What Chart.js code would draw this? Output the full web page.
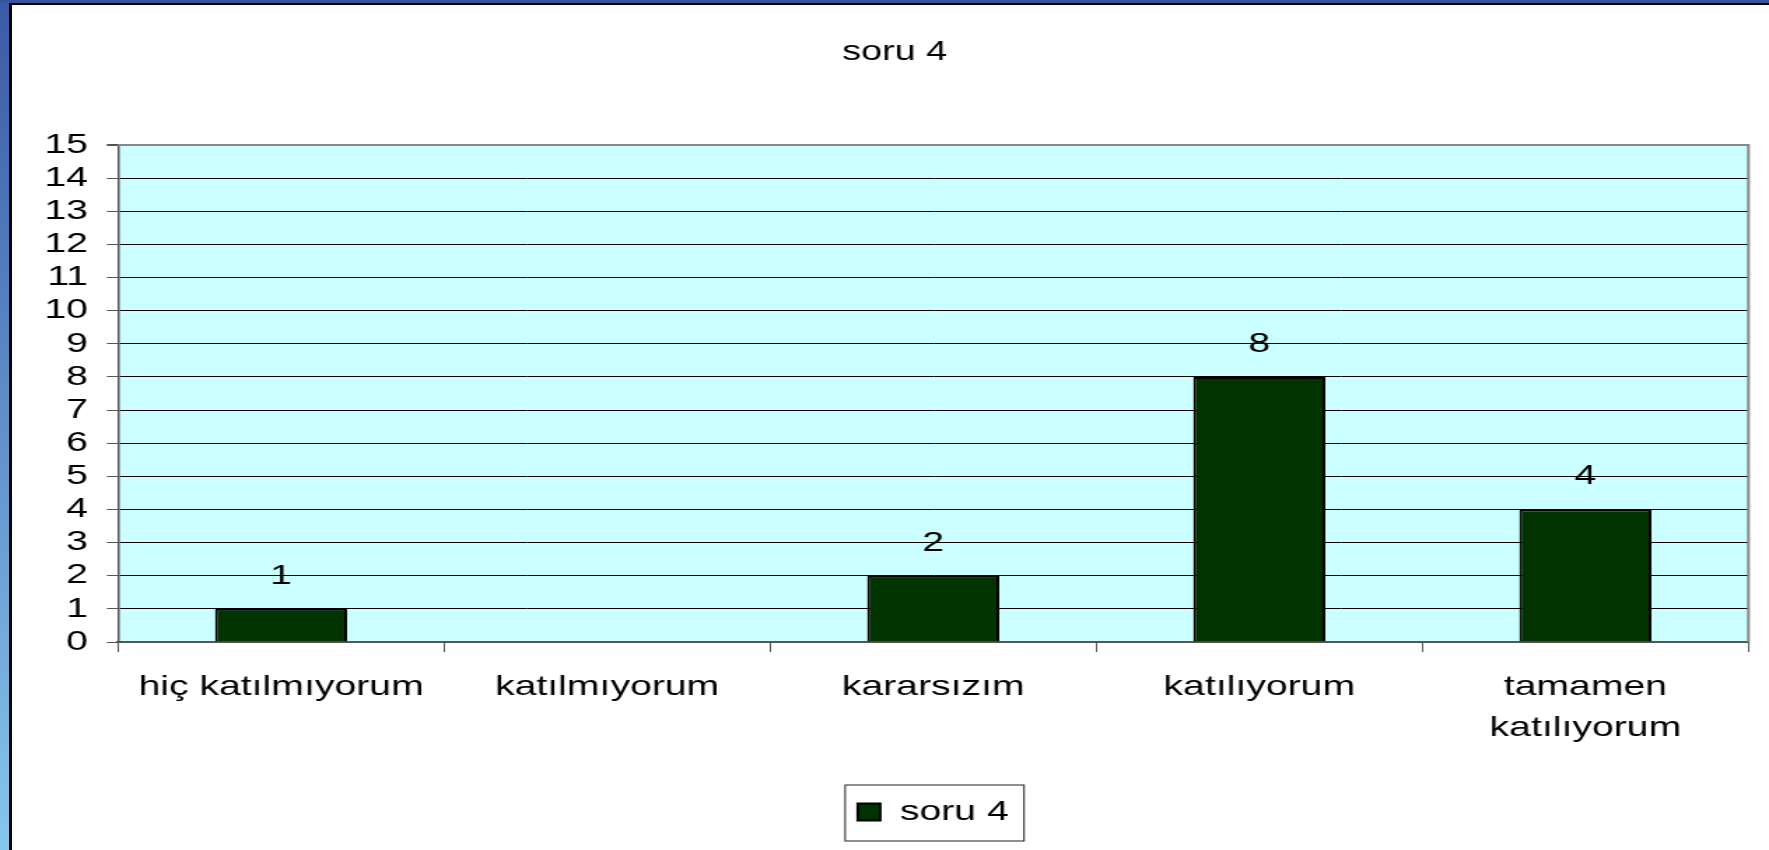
<!DOCTYPE html>
<html lang="tr">
<head>
    <meta charset="UTF-8">
    <title>soru 4</title>
    <script src="https://cdn.jsdelivr.net/npm/chart.js"></script>
    <style>
        body {
            margin: 0;
            background: #fff;
            width: 1769px;
            height: 850px;
            overflow: hidden;
            position: relative;
        }
        .strip-left {
            position: absolute; left: 0; top: 0; width: 9px; height: 850px;
            background: linear-gradient(#3a5aa6, #86c6ec);
        }
        .strip-top {
            position: absolute; left: 0; top: 0; width: 1769px; height: 3px;
            background: #3654a0;
        }
        .line-left {
            position: absolute; left: 9px; top: 3px; width: 3px; height: 847px; background: #000;
        }
        .line-top {
            position: absolute; left: 9px; top: 3px; width: 1760px; height: 2px; background: #000;
        }
        /* the original picture is stretched sideways, so the chart is drawn narrow and widened */
        #wrap {
            position: absolute; left: 0; top: 0;
            width: 1264px; height: 850px;
            transform: scaleX(1.39953);
            transform-origin: 0 0;
        }
    </style>
</head>
<body>
    <div class="strip-left"></div>
    <div class="strip-top"></div>
    <div class="line-left"></div>
    <div class="line-top"></div>
    <div id="wrap"><canvas id="barChart"></canvas></div>

    <script>
        const categories = ['hiç katılmıyorum', 'katılmıyorum', 'kararsızım', 'katılıyorum', ['tamamen', 'katılıyorum']];
        const seriesName = 'soru 4';
        const values = [1, null, 2, 8, 4];
        const yMin = 0;
        const yMax = 15;
        const yStep = 1;

        const FONT = 'Arial, "Liberation Sans", sans-serif';
        const LEGEND_PAD = 10;
        const LEGEND_SIZE = 28;

        // light cyan plot area + grey frame on top/right
        const plotBackground = {
            id: 'plotBackground',
            beforeDraw(chart) {
                const {ctx, chartArea: a} = chart;
                ctx.save();
                ctx.fillStyle = '#ccffff';
                ctx.fillRect(a.left, a.top, a.right - a.left, a.bottom - a.top);
                ctx.restore();
            },
            beforeDatasetsDraw(chart) {
                const {ctx, chartArea: a} = chart;
                ctx.save();
                ctx.strokeStyle = '#888';
                ctx.lineWidth = 2;
                ctx.beginPath();
                ctx.moveTo(a.left, a.top);
                ctx.lineTo(a.right, a.top);
                ctx.lineTo(a.right, a.bottom);
                ctx.stroke();
                ctx.restore();
            }
        };

        // title a bit right of canvas centre, legend centred on the plot
        const placeBoxes = {
            id: 'placeBoxes',
            afterLayout(chart) {
                const a = chart.chartArea;
                chart.titleBlock.left += 14.7;
                chart.titleBlock.right += 14.7;
                const lg = chart.legend;
                lg.left = a.left;
                lg.right = a.right;
                lg.width = a.right - a.left;
            }
        };

        // value labels above bars
        const valueLabels = {
            id: 'valueLabels',
            afterDatasetsDraw(chart) {
                const {ctx} = chart;
                const meta = chart.getDatasetMeta(0);
                ctx.save();
                ctx.font = '28px ' + FONT;
                ctx.fillStyle = '#000';
                ctx.textAlign = 'center';
                ctx.textBaseline = 'alphabetic';
                meta.data.forEach((bar, i) => {
                    if (values[i] == null) return;
                    ctx.fillText(String(values[i]), bar.x, bar.y - 25);
                });
                ctx.restore();
            }
        };

        // box round the legend
        const legendFrame = {
            id: 'legendFrame',
            afterDraw(chart) {
                const lg = chart.legend;
                if (!lg || !lg.legendHitBoxes.length) return;
                const w = lg.legendHitBoxes[0].width;
                const x0 = (lg.left + lg.right - w) / 2;
                const cy = lg.top + LEGEND_PAD + LEGEND_SIZE / 2;
                const {ctx} = chart;
                ctx.save();
                ctx.strokeStyle = '#222';
                ctx.lineWidth = 1;
                ctx.strokeRect(x0 - 9, cy - 27, w + 20, 56);
                ctx.restore();
            }
        };

        const ctx = document.getElementById('barChart').getContext('2d');
        new Chart(ctx, {
            type: 'bar',
            data: {
                labels: categories,
                datasets: [{
                    label: seriesName,
                    data: values,
                    backgroundColor: '#003300',
                    borderColor: '#000',
                    borderWidth: 2,
                    categoryPercentage: 1,
                    barPercentage: 0.405
                }]
            },
            options: {
                responsive: true,
                maintainAspectRatio: false,
                animation: false,
                devicePixelRatio: 1,
                layout: {
                    padding: {left: 0, right: 14.7, top: 0, bottom: 14}
                },
                plugins: {
                    title: {
                        display: true,
                        text: seriesName,
                        color: '#000',
                        font: {family: FONT, size: 27, weight: 'normal', lineHeight: 1.2},
                        padding: {top: 36.3, bottom: 76.3}
                    },
                    legend: {
                        display: true,
                        position: 'bottom',
                        labels: {
                            color: '#000',
                            font: {family: FONT, size: LEGEND_SIZE},
                            boxWidth: 16,
                            boxHeight: 17,
                            padding: LEGEND_PAD
                        }
                    },
                    tooltip: {enabled: false}
                },
                scales: {
                    x: {
                        offset: true,
                        grid: {
                            display: true,
                            drawOnChartArea: false,
                            drawTicks: true,
                            tickLength: 10,
                            color: '#555',
                            lineWidth: 1
                        },
                        border: {display: true, color: '#555', width: 2},
                        ticks: {
                            color: '#000',
                            font: {family: FONT, size: 28, lineHeight: 1.464},
                            padding: 15,
                            autoSkip: false,
                            maxRotation: 0,
                            minRotation: 0
                        },
                        afterFit(scale) { scale.height = 146; }
                    },
                    y: {
                        min: yMin,
                        max: yMax,
                        grid: {
                            color: c => (c.tick && c.tick.value === yMax) ? '#888' : '#000',
                            lineWidth: c => (c.tick && c.tick.value === yMax) ? 2 : 1,
                            tickColor: '#555',
                            tickLength: 8,
                            drawTicks: true
                        },
                        border: {display: true, color: '#555', width: 1.5},
                        ticks: {
                            stepSize: yStep,
                            autoSkip: false,
                            color: '#000',
                            font: {family: FONT, size: 28},
                            padding: 13.5
                        },
                        afterFit(scale) { scale.width = 84.3; }
                    }
                }
            },
            plugins: [plotBackground, placeBoxes, valueLabels, legendFrame]
        });
    </script>
</body>
</html>
